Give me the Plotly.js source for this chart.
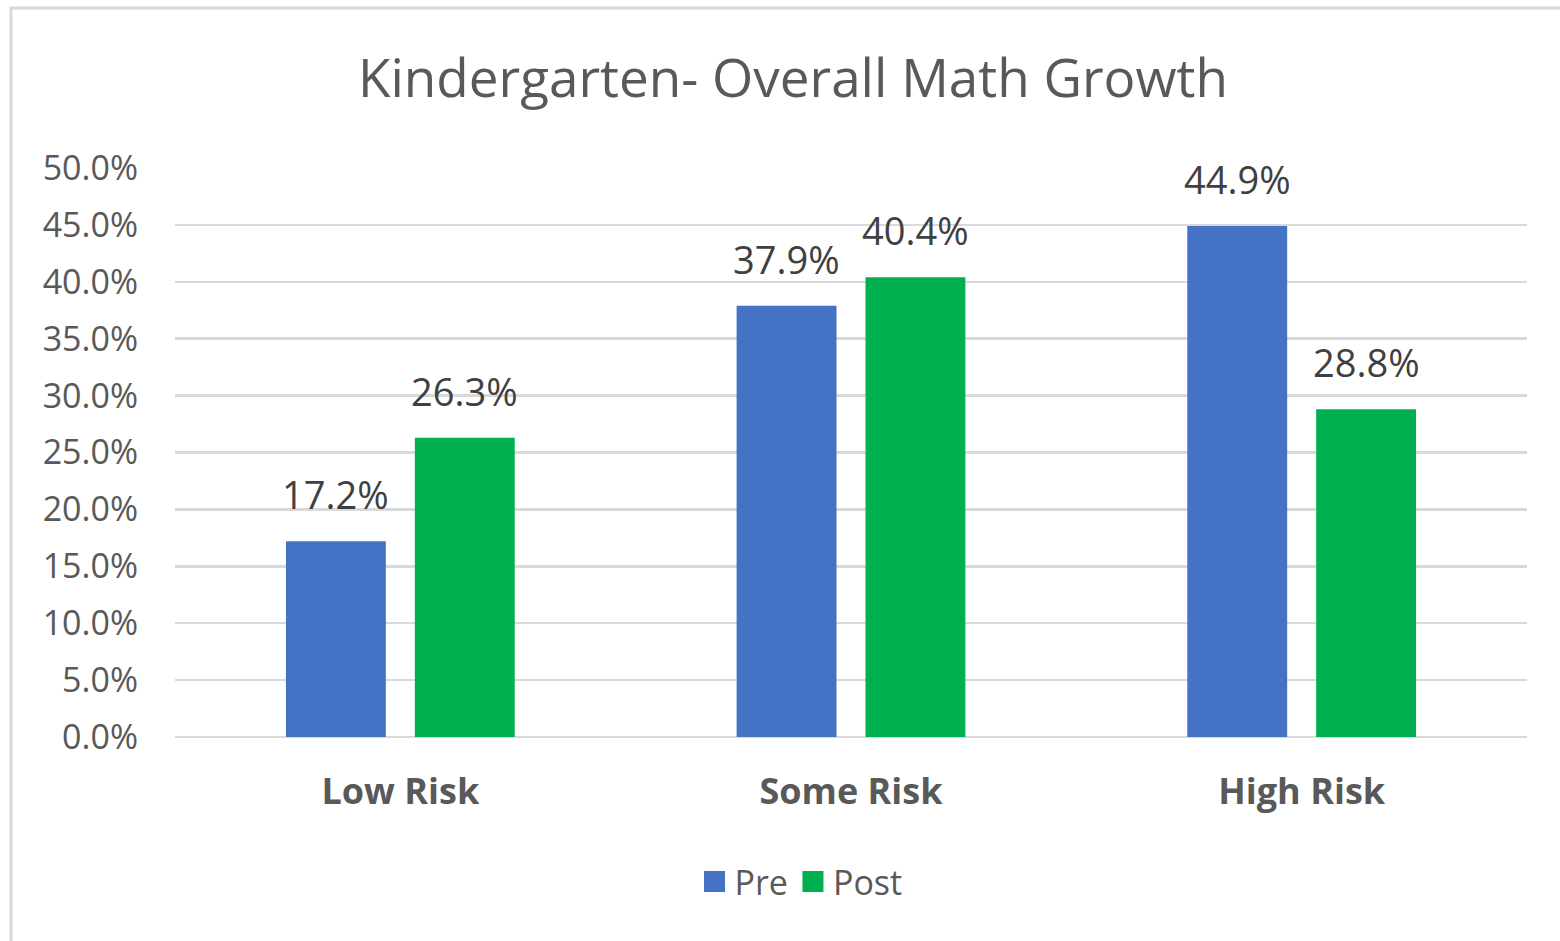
<!DOCTYPE html>
<html>
<head>
<meta charset="utf-8">
<script src="https://cdn.plot.ly/plotly-3.0.1.min.js"></script>
<style>html,body{margin:0;padding:0;background:#fff;}#chart{width:1560px;height:941px;}</style>
</head>
<body>
<div id="chart"></div>
<script>
const categories = ["Low Risk", "Some Risk", "High Risk"];
const preValues = [0.172, 0.379, 0.449];
const postValues = [0.263, 0.404, 0.288];
const seriesNames = ["Pre", "Post"];
const tickValues = [0, 0.05, 0.10, 0.15, 0.20, 0.25, 0.30, 0.35, 0.40, 0.45, 0.50];

const W = 1560, H = 941, L = 175, R = 33, T = 168, B = 204;
const pw = W - L - R, ph = H - T - B;
const px = v => (v - L) / pw;
const py = v => (H - B - v) / ph;

const fontFam = "'Open Sans', 'Noto Sans', sans-serif";
const colors = ['#4472C4', '#00B050'];
function mk(name, vals, color) {
  return {
    type: 'bar', name: name, x: categories, y: vals,
    marker: {color: color}, hoverinfo: 'skip'
  };
}
const data = [mk(seriesNames[0], preValues, colors[0]), mk(seriesNames[1], postValues, colors[1])];

const fmt = v => (v * 100).toFixed(1) + '%';
const annotations = [];
[preValues, postValues].forEach((vals, si) => {
  vals.forEach((v, i) => {
    annotations.push({
      x: categories[i], y: v, xref: 'x', yref: 'y', text: fmt(v), showarrow: false,
      xanchor: 'center', yanchor: 'bottom', xshift: si === 0 ? -64.5 : 64.5, yshift: 19,
      font: {family: fontFam, size: 38, color: '#404040'}
    });
  });
});

const layout = {
  width: W, height: H,
  margin: {l: L, r: R, t: T, b: B, pad: 0},
  paper_bgcolor: '#fff', plot_bgcolor: '#fff',
  font: {family: fontFam, color: '#595959'},
  title: {text: 'Kindergarten- Overall Math Growth', x: 793 / W, xanchor: 'center', y: 1 - 78 / H, yanchor: 'middle', yref: 'container',
          font: {family: fontFam, size: 53, color: '#595959'}},
  barmode: 'group', bargap: 0.428, bargroupgap: 0.225,
  xaxis: {showgrid: false, showline: false, ticks: '', ticklabelstandoff: 30,
          tickfont: {family: fontFam, size: 36, color: '#595959', weight: 'bold'}},
  yaxis: {range: [0, 0.5], tickvals: tickValues, tickformat: '.1%', showgrid: true, gridcolor: '#d9d9d9', gridwidth: 2.5,
          zeroline: true, zerolinecolor: '#d9d9d9', zerolinewidth: 2.5, showline: false, ticks: '', ticklabelstandoff: 36,
          tickfont: {family: fontFam, size: 34, color: '#595959'}},
  showlegend: true,
  legend: {orientation: 'h', x: px(801), xanchor: 'center', y: py(882), yanchor: 'middle',
           font: {family: fontFam, size: 34, color: '#595959'}, itemwidth: 30, traceorder: 'normal'},
  annotations: annotations,
  shapes: [{type: 'rect', xref: 'paper', yref: 'paper', x0: px(11), x1: px(1575), y0: py(8), y1: py(960),
            line: {color: '#d9d9d9', width: 3}, fillcolor: 'rgba(0,0,0,0)', layer: 'below'}]
};
Plotly.newPlot('chart', data, layout, {displayModeBar: false, staticPlot: true}).then(gd => {
  gd.querySelectorAll('.legendpoints path').forEach(p => {
    p.setAttribute('d', 'M10.5,10.5H-10.5V-10.5H10.5Z');
  });
});
</script>
</body>
</html>
